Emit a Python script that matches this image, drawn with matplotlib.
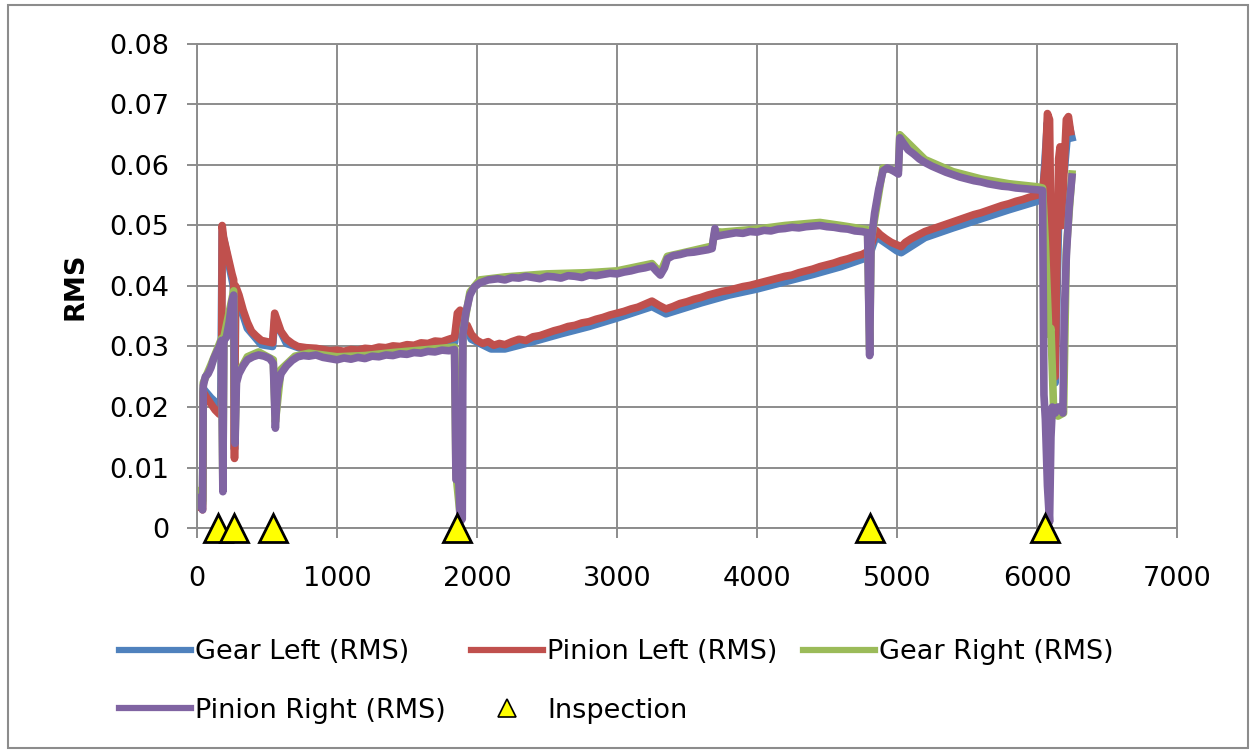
import matplotlib.pyplot as plt
from matplotlib.lines import Line2D
from matplotlib.patches import Rectangle

plt.rcParams['font.family'] = ['DejaVu Sans']

# Pinion Right (RMS) - purple
pr_x = [0, 20, 40, 45, 60, 80, 100, 120, 140, 160, 175, 185, 192, 210, 230, 250, 262, 272, 282,
        300, 330, 360, 400, 440, 480, 520, 545, 560, 575, 600, 640, 680, 720, 760, 800, 850,
        900, 950, 1000, 1050, 1100, 1150, 1200, 1250, 1300, 1350, 1400, 1450, 1500, 1550,
        1600, 1650, 1700, 1750, 1800, 1840, 1850, 1870, 1880, 1895, 1900, 1920, 1950, 1980,
        2020, 2080, 2150, 2200, 2250, 2300, 2350, 2400, 2450, 2500, 2550, 2600, 2650, 2700,
        2750, 2800, 2850, 2900, 2950, 3000, 3050, 3100, 3150, 3200, 3250, 3280, 3310, 3340,
        3360, 3400, 3450, 3500, 3550, 3600, 3650, 3680, 3690, 3700, 3710, 3750, 3800, 3850,
        3900, 3950, 4000, 4050, 4100, 4150, 4200, 4250, 4300, 4350, 4400, 4450, 4500, 4550,
        4600, 4650, 4700, 4750, 4790, 4805, 4815, 4840, 4870, 4900, 4930, 4960, 4990, 5010,
        5020, 5040, 5080, 5120, 5160, 5200, 5250, 5300, 5350, 5400, 5450, 5500, 5550, 5600,
        5650, 5700, 5750, 5800, 5850, 5900, 5950, 6000, 6040, 6050, 6060, 6075, 6090, 6100,
        6110, 6130, 6150, 6170, 6185, 6195, 6210, 6230, 6250]
pr_y = [0.0050, 0.0045, 0.0030, 0.0235, 0.0250, 0.0255, 0.0265, 0.0280, 0.0290, 0.0300,
        0.0310, 0.0060, 0.0310, 0.0315, 0.0340, 0.0375, 0.0385, 0.0140, 0.0240, 0.0255,
        0.0268, 0.0278, 0.0283, 0.0286, 0.0284, 0.0280, 0.0272, 0.0165, 0.0230, 0.0255,
        0.0268, 0.0277, 0.0283, 0.0285, 0.0284, 0.0286, 0.0282, 0.0280, 0.0278, 0.0281,
        0.0279, 0.0282, 0.0280, 0.0284, 0.0283, 0.0286, 0.0285, 0.0288, 0.0287, 0.0290,
        0.0289, 0.0292, 0.0291, 0.0294, 0.0293, 0.0295, 0.0080, 0.0080, 0.0010, 0.0015,
        0.0320, 0.0355, 0.0385, 0.0398, 0.0405, 0.0410, 0.0412, 0.0410, 0.0414, 0.0413,
        0.0416, 0.0414, 0.0412, 0.0416, 0.0415, 0.0413, 0.0417, 0.0416, 0.0414, 0.0418,
        0.0417, 0.0419, 0.0421, 0.0420, 0.0423, 0.0425, 0.0428, 0.0430, 0.0433, 0.0425,
        0.0418, 0.0430, 0.0445, 0.0450, 0.0452, 0.0455, 0.0456, 0.0458, 0.0460, 0.0462,
        0.0480, 0.0495, 0.0482, 0.0484, 0.0486, 0.0488, 0.0487, 0.0490, 0.0489, 0.0492,
        0.0491, 0.0494, 0.0495, 0.0497, 0.0496, 0.0498, 0.0499, 0.0500, 0.0498, 0.0497,
        0.0495, 0.0494, 0.0491, 0.0490, 0.0488, 0.0285, 0.0470, 0.0520, 0.0560, 0.0590,
        0.0595, 0.0592, 0.0588, 0.0585, 0.0645, 0.0638, 0.0625, 0.0618, 0.0610, 0.0604,
        0.0598, 0.0593, 0.0588, 0.0584, 0.0580, 0.0577, 0.0574, 0.0572, 0.0569, 0.0567,
        0.0565, 0.0564, 0.0562, 0.0561, 0.0560, 0.0559, 0.0558, 0.0220, 0.0180, 0.0070,
        0.0010, 0.0150, 0.0200, 0.0190, 0.0200, 0.0200, 0.0190, 0.0350, 0.0450, 0.0530,
        0.0580]

# Pinion Left (RMS) - red
pl_x = [0, 20, 40, 45, 70, 100, 130, 160, 175, 180, 190, 210, 230, 250, 262, 268, 276, 300,
        330, 360, 390, 420, 460, 500, 540, 555, 570, 600, 640, 680, 720, 780, 850, 900, 950,
        1000, 1050, 1100, 1150, 1200, 1250, 1300, 1350, 1400, 1450, 1500, 1550, 1600, 1650,
        1700, 1750, 1800, 1840, 1860, 1880, 1900, 1930, 1960, 2000, 2040, 2080, 2120, 2160,
        2200, 2250, 2300, 2350, 2400, 2450, 2500, 2550, 2600, 2650, 2700, 2750, 2800, 2850,
        2900, 2950, 3000, 3050, 3100, 3150, 3200, 3250, 3300, 3350, 3400, 3450, 3500, 3550,
        3600, 3650, 3700, 3750, 3800, 3850, 3900, 3950, 4000, 4050, 4100, 4150, 4200, 4250,
        4300, 4350, 4400, 4450, 4500, 4550, 4600, 4650, 4700, 4750, 4800, 4820, 4850, 4880,
        4920, 4960, 5000, 5030, 5060, 5100, 5150, 5200, 5250, 5300, 5350, 5400, 5450, 5500,
        5550, 5600, 5650, 5700, 5750, 5800, 5850, 5900, 5950, 6000, 6040, 6060, 6075, 6090,
        6100, 6115, 6130, 6140, 6155, 6165, 6180, 6195, 6210, 6225, 6240]
pl_y = [0.0035, 0.0040, 0.0030, 0.0225, 0.0215, 0.0205, 0.0195, 0.0188, 0.0190, 0.0500,
        0.0480, 0.0460, 0.0440, 0.0420, 0.0410, 0.0115, 0.0400, 0.0385, 0.0360, 0.0340,
        0.0325, 0.0318, 0.0310, 0.0308, 0.0306, 0.0355, 0.0345, 0.0325, 0.0312, 0.0305,
        0.0300, 0.0298, 0.0297, 0.0295, 0.0293, 0.0294, 0.0292, 0.0295, 0.0294, 0.0297,
        0.0296, 0.0299, 0.0298, 0.0301, 0.0300, 0.0303, 0.0302, 0.0306, 0.0305, 0.0309,
        0.0308, 0.0312, 0.0315, 0.0355, 0.0360, 0.0340, 0.0335, 0.0320, 0.0310, 0.0305,
        0.0308, 0.0302, 0.0305, 0.0303, 0.0308, 0.0312, 0.0310, 0.0316, 0.0318, 0.0322,
        0.0326, 0.0329, 0.0333, 0.0335, 0.0339, 0.0341, 0.0345, 0.0348, 0.0352, 0.0355,
        0.0358, 0.0362, 0.0365, 0.0370, 0.0375, 0.0368, 0.0362, 0.0366, 0.0371, 0.0374,
        0.0378, 0.0381, 0.0385, 0.0388, 0.0391, 0.0393, 0.0396, 0.0399, 0.0401, 0.0404,
        0.0407, 0.0410, 0.0413, 0.0416, 0.0418, 0.0422, 0.0425, 0.0428, 0.0432, 0.0435,
        0.0438, 0.0442, 0.0445, 0.0449, 0.0452, 0.0458, 0.0470, 0.0492, 0.0485, 0.0478,
        0.0472, 0.0468, 0.0465, 0.0472, 0.0478, 0.0484, 0.0490, 0.0494, 0.0498, 0.0502,
        0.0506, 0.0510, 0.0514, 0.0518, 0.0521, 0.0525, 0.0529, 0.0533, 0.0536, 0.0540,
        0.0543, 0.0547, 0.0550, 0.0555, 0.0600, 0.0685, 0.0675, 0.0480, 0.0300, 0.0250,
        0.0400, 0.0610, 0.0630, 0.0500, 0.0600, 0.0675, 0.0680, 0.0655]

# Gear Left (RMS) - blue
gl_x = [0, 40, 45, 100, 170, 180, 260, 268, 276, 360, 460, 540, 555, 640, 800, 1000, 1200,
        1400, 1600, 1840, 1860, 1880, 1960, 2100, 2200, 2400, 2600, 2800, 3000, 3250, 3350,
        3600, 3800, 4000, 4200, 4400, 4600, 4800, 4850, 5000, 5030, 5200, 5400, 5600, 5800,
        6000, 6040, 6075, 6100, 6130, 6165, 6195, 6225, 6250]
gl_y = [0.0050, 0.0045, 0.0230, 0.0215, 0.0200, 0.0490, 0.0400, 0.0130, 0.0390, 0.0330,
        0.0303, 0.0300, 0.0345, 0.0305, 0.0292, 0.0288, 0.0290, 0.0294, 0.0299, 0.0307,
        0.0345, 0.0350, 0.0312, 0.0296, 0.0296, 0.0308, 0.0321, 0.0333, 0.0347, 0.0366,
        0.0354, 0.0372, 0.0385, 0.0395, 0.0407, 0.0419, 0.0432, 0.0448, 0.0482, 0.0458,
        0.0455, 0.0480, 0.0496, 0.0511, 0.0526, 0.0540, 0.0546, 0.0670, 0.0470, 0.0240,
        0.0620, 0.0590, 0.0670, 0.0645]

# Gear Right (RMS) - green
gr_x = [0, 40, 45, 100, 175, 185, 192, 262, 272, 282, 360, 440, 545, 560, 600, 700, 800,
        1000, 1200, 1400, 1600, 1840, 1850, 1880, 1900, 1950, 2020, 2200, 2500, 2800, 3000,
        3250, 3310, 3360, 3680, 3700, 3750, 4000, 4200, 4450, 4600, 4790, 4805, 4815, 4900,
        5010, 5020, 5200, 5400, 5600, 5800, 6000, 6040, 6060, 6085, 6100, 6120, 6150, 6190,
        6210, 6250]
gr_y = [0.0060, 0.0040, 0.0240, 0.0270, 0.0313, 0.0070, 0.0315, 0.0392, 0.0150, 0.0250,
        0.0283, 0.0291, 0.0278, 0.0175, 0.0262, 0.0284, 0.0289, 0.0283, 0.0285, 0.0290,
        0.0294, 0.0299, 0.0090, 0.0020, 0.0325, 0.0390, 0.0410, 0.0415, 0.0420, 0.0422,
        0.0425, 0.0437, 0.0422, 0.0449, 0.0466, 0.0490, 0.0489, 0.0494, 0.0500, 0.0505,
        0.0500, 0.0493, 0.0295, 0.0475, 0.0595, 0.0590, 0.0650, 0.0609, 0.0589, 0.0577,
        0.0569, 0.0564, 0.0562, 0.0470, 0.0320, 0.0330, 0.0190, 0.0185, 0.0190, 0.0460,
        0.0585]

# Inspection points
insp_x = [150, 262, 540, 1860, 4810, 6060]
insp_y = [0, 0, 0, 0, 0, 0]

fig = plt.figure(figsize=(12.53, 7.53), dpi=100)
ax = fig.add_axes([0.1572, 0.2988, 0.7821, 0.6428])

lw = 5.5
ax.plot(gl_x, gl_y, color='#4F81BD', lw=lw, solid_joinstyle='round')
ax.plot(pl_x, pl_y, color='#C0504D', lw=lw, solid_joinstyle='round')
ax.plot(gr_x, gr_y, color='#9BBB59', lw=lw, solid_joinstyle='round')
ax.plot(pr_x, pr_y, color='#8064A2', lw=lw, solid_joinstyle='round')
ax.plot(insp_x, insp_y, ls='none', marker='^', ms=20, mfc='#FFFF00', mec='black',
        mew=2, clip_on=False, zorder=5)

ax.set_xlim(0, 7000)
ax.set_ylim(0, 0.08)
ax.set_xticks(range(0, 7001, 1000))
ax.set_yticks([i / 100 for i in range(9)])
ax.set_yticklabels(['0'] + ['%.2f' % (i / 100) for i in range(1, 9)])
ax.grid(True, color='#8C8C8C', lw=1.4)
ax.set_axisbelow(True)
for s in ax.spines.values():
    s.set_color('#8C8C8C')
    s.set_linewidth(1.4)
ax.tick_params(colors='#8C8C8C', labelcolor='black', labelsize=19.5, length=7, width=1.4)
ax.tick_params(axis='y', pad=13)
ax.tick_params(axis='x', pad=20)
ax.set_ylabel('RMS', fontsize=19.5, fontweight='bold', labelpad=15)

handles = [
    Line2D([], [], color='#4F81BD', lw=4.5),
    Line2D([], [], color='#8064A2', lw=4.5),
    Line2D([], [], color='#C0504D', lw=4.5),
    Line2D([], [], ls='none', marker='^', ms=13, mfc='#FFFF00', mec='black', mew=1.2),
    Line2D([], [], color='#9BBB59', lw=4.5),
]
labels = ['Gear Left (RMS)', 'Pinion Right (RMS)', 'Pinion Left (RMS)', 'Inspection',
          'Gear Right (RMS)']
fig.legend(handles, labels, ncol=3, loc='upper left', bbox_to_anchor=(0.095, 0.151),
           frameon=False, fontsize=19.5, handlelength=2.65, handletextpad=0.15,
           columnspacing=0.95, labelspacing=1.2, borderpad=0, borderaxespad=0)

fig.patches.append(Rectangle((0.006, 0.007), 0.99, 0.986, transform=fig.transFigure,
                             fill=False, edgecolor='#8C8C8C', lw=1.5))

fig.savefig('out.png', dpi=100)
